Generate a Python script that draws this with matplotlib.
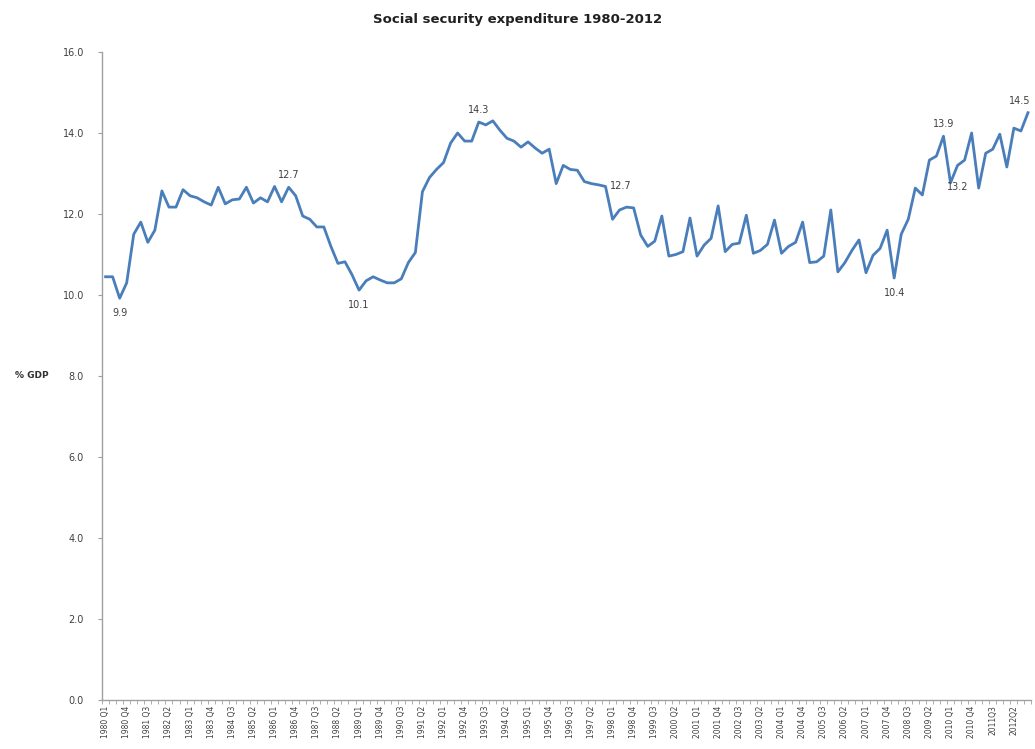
import matplotlib
matplotlib.use("Agg")
import matplotlib.pyplot as plt
import numpy as np

# quarterly social security expenditure, % of GDP, 1980 Q1 - 2012 Q4
pct_gdp = [
    10.45, 10.45, 9.92, 10.3, 11.5, 11.8, 11.3, 11.6, 12.57, 12.17,
    12.17, 12.6, 12.45, 12.4, 12.3, 12.22, 12.66, 12.25, 12.35, 12.37,
    12.66, 12.27, 12.4, 12.3, 12.68, 12.3, 12.66, 12.45, 11.95, 11.87,
    11.68, 11.68, 11.2, 10.78, 10.82, 10.5, 10.12, 10.35, 10.45, 10.37,
    10.3, 10.3, 10.4, 10.8, 11.05, 12.55, 12.9, 13.1, 13.27, 13.75,
    14.0, 13.8, 13.8, 14.27, 14.2, 14.3, 14.07, 13.87, 13.8, 13.65,
    13.78, 13.63, 13.5, 13.6, 12.75, 13.2, 13.1, 13.08, 12.8, 12.75,
    12.72, 12.68, 11.87, 12.1, 12.17, 12.15, 11.48, 11.2, 11.33, 11.95,
    10.96, 11.0, 11.07, 11.9, 10.96, 11.23, 11.4, 12.2, 11.07, 11.25,
    11.28, 11.97, 11.03, 11.1, 11.25, 11.85, 11.03, 11.2, 11.3, 11.8,
    10.8, 10.82, 10.96, 12.1, 10.57, 10.8, 11.1, 11.36, 10.55, 10.98,
    11.15, 11.6, 10.42, 11.5, 11.87, 12.64, 12.47, 13.33, 13.43, 13.92,
    12.77, 13.2, 13.33, 14.0, 12.64, 13.5, 13.6, 13.97, 13.16, 14.12,
    14.05, 14.5,
]

years = list(range(1980, 2013))
quarters = [f"{y} Q{q}" for y in years for q in range(1, 5)]
# the last two shown labels were written without a space in the source
short_labels = {"2011 Q3": "2011Q3", "2012 Q2": "2012Q2"}

# data labels: (index, placement)
labelled = [(2, "below"), (26, "above"), (36, "below"), (53, "above"),
            (71, "right"), (112, "below"), (119, "above"), (121, "below"),
            (131, "above")]

fig = plt.figure(figsize=(10.35, 7.49), dpi=100)
ax = fig.add_axes([0.0986, 0.0654, 0.898, 0.8652])

x = np.arange(len(pct_gdp))
ax.plot(x, pct_gdp, color="#4a7ebb", linewidth=2.0, solid_joinstyle="round")

offsets = {"above": (0, 5, "center", "bottom"),
           "below": (0, -7, "center", "top"),
           "right": (3, 0, "left", "center")}
for i, where in labelled:
    dx, dy, ha, va = offsets[where]
    if i == len(pct_gdp) - 1:
        dx = -6
    if i == 121:
        dy = -12
    ax.annotate(f"{pct_gdp[i]:.1f}", (x[i], pct_gdp[i]), xytext=(dx, dy),
                textcoords="offset points", ha=ha, va=va, fontsize=7,
                color="#404040")

ax.set_xlim(-0.5, len(pct_gdp) - 0.5)
ax.set_ylim(0, 16)
ax.set_yticks(np.arange(0, 16.1, 2))
ax.set_yticklabels([f"{v:.1f}" for v in np.arange(0, 16.1, 2)])

tick_idx = list(range(0, len(pct_gdp), 3))
ax.set_xticks(tick_idx)
ax.set_xticklabels([short_labels.get(quarters[i], quarters[i]) for i in tick_idx],
                   rotation=90, fontsize=5.5, color="#404040")
ax.set_xticks(np.arange(-0.5, len(pct_gdp), 1), minor=True)
ax.tick_params(axis="x", which="major", length=0, pad=4)
ax.tick_params(axis="x", which="minor", length=3, color="#a0a0a0")
ax.tick_params(axis="y", length=3, color="#a0a0a0", labelsize=7,
               labelcolor="#404040", pad=10)

for side in ("top", "right"):
    ax.spines[side].set_visible(False)
for side in ("left", "bottom"):
    ax.spines[side].set_color("#a0a0a0")
    ax.spines[side].set_linewidth(1.0)

ax.set_ylabel("% GDP", rotation=0, fontsize=6.5, fontweight="bold",
              color="#303030", labelpad=22, va="center")

fig.suptitle("Social security expenditure 1980-2012", x=0.5, y=0.983,
             fontsize=9.5, fontweight="bold", color="#202020")

fig.savefig("out.png", dpi=100)
